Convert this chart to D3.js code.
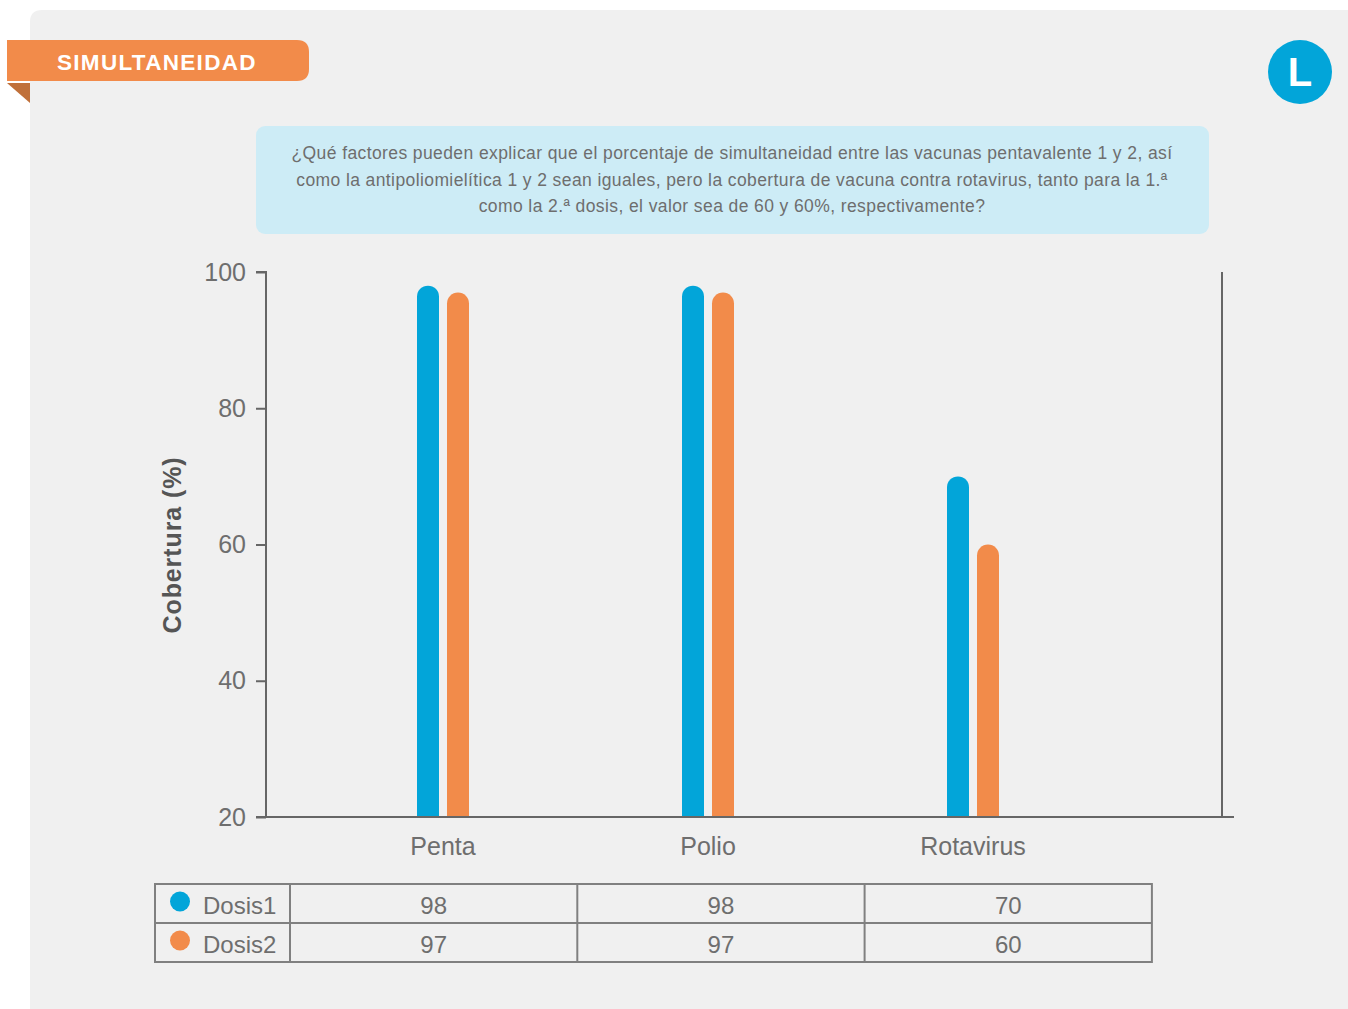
<!DOCTYPE html>
<html>
<head>
<meta charset="utf-8">
<script src="https://cdn.jsdelivr.net/npm/d3@7"></script>
<style>
  html, body { margin: 0; padding: 0; background: #ffffff; }
  svg { display: block; }
  text { font-family: "Liberation Sans", Arial, sans-serif; }
</style>
</head>
<body>
<script>
// Vaccine coverage by dose
const categories = ["Penta", "Polio", "Rotavirus"];
const seriesNames = ["Dosis1", "Dosis2"];
const dosis1 = [98, 98, 70];
const dosis2 = [97, 97, 60];
const yTicks = [20, 40, 60, 80, 100];
const questionLines = [
  "¿Qué factores pueden explicar que el porcentaje de simultaneidad entre las vacunas pentavalente 1 y 2, así",
  "como la antipoliomielítica 1 y 2 sean iguales, pero la cobertura de vacuna contra rotavirus, tanto para la 1.ª",
  "como la 2.ª dosis, el valor sea de 60 y 60%, respectivamente?"
];

const W = 1348, H = 1009;
const BLUE = "#02a5d9", ORANGE = "#f28b4a", GREY = "#6e6e6e", LINE = "#666666";
const colors = [BLUE, ORANGE];
const series = [dosis1, dosis2];

const svg = d3.select("body").append("svg").attr("width", W).attr("height", H);

// card background
svg.append("path")
  .attr("d", "M30,22 Q30,10 42,10 L1348,10 L1348,1009 L30,1009 Z")
  .attr("fill", "#f0f0f0");

// section ribbon
svg.append("path")
  .attr("d", "M7,83 L30,83 L30,103 Z")
  .attr("fill", "#c0703a");
svg.append("path")
  .attr("d", "M7,40 L297,40 Q309,40 309,52 L309,69 Q309,81 297,81 L7,81 Z")
  .attr("fill", ORANGE);
svg.append("text")
  .attr("x", 57).attr("y", 70)
  .attr("fill", "#ffffff")
  .attr("font-size", 22.5).attr("font-weight", "bold")
  .attr("letter-spacing", 1.3)
  .text("SIMULTANEIDAD");

// badge
svg.append("circle").attr("cx", 1300).attr("cy", 72).attr("r", 32).attr("fill", BLUE);
svg.append("text")
  .attr("x", 1300).attr("y", 86)
  .attr("text-anchor", "middle")
  .attr("fill", "#ffffff")
  .attr("font-size", 40).attr("font-weight", "bold")
  .text("L");

// question box
svg.append("rect")
  .attr("x", 256).attr("y", 126).attr("width", 953).attr("height", 108)
  .attr("rx", 9).attr("fill", "#cdecf6");
svg.append("g").selectAll("text").data(questionLines).join("text")
  .attr("x", 732).attr("y", (d, i) => 159 + i * 26.5)
  .attr("text-anchor", "middle")
  .attr("fill", GREY)
  .attr("font-size", 17.5)
  .attr("letter-spacing", 0.4)
  .text(d => d);

// scales
const y = d3.scaleLinear().domain([20, 100]).range([817, 272]);
const x = d3.scalePoint().domain(categories).range([443, 973]);
const barW = 22, gap = 8;

// y axis
const yAxis = svg.append("g")
  .attr("transform", "translate(266,0)")
  .call(d3.axisLeft(y).tickValues(yTicks).tickSize(10).tickPadding(10));
yAxis.select(".domain").attr("stroke", LINE).attr("stroke-width", 2)
  .attr("d", "M-10,272H0V817H-10");
yAxis.selectAll(".tick line").attr("stroke", LINE).attr("stroke-width", 2);
yAxis.selectAll(".tick text")
  .attr("fill", GREY).attr("font-size", 25)
  .attr("font-family", "Liberation Sans, Arial, sans-serif");

// x baseline and right frame
svg.append("line").attr("x1", 266).attr("x2", 1234).attr("y1", 817).attr("y2", 817)
  .attr("stroke", LINE).attr("stroke-width", 2);
svg.append("line").attr("x1", 1222).attr("x2", 1222).attr("y1", 272).attr("y2", 817)
  .attr("stroke", LINE).attr("stroke-width", 2);

// y title
svg.append("text")
  .attr("transform", "translate(181,545) rotate(-90)")
  .attr("text-anchor", "middle")
  .attr("fill", "#555555")
  .attr("font-size", 25).attr("font-weight", "bold")
  .attr("letter-spacing", 0.9)
  .text("Cobertura (%)");

// bars with rounded tops
function roundedBar(x0, yTop, w, yBase) {
  const r = w / 2;
  return `M${x0},${yBase} L${x0},${yTop + r} A${r},${r} 0 0 1 ${x0 + w},${yTop + r} L${x0 + w},${yBase} Z`;
}
const barData = [];
categories.forEach((c, i) => {
  series.forEach((s, j) => {
    barData.push({ c, j, v: s[i] });
  });
});
svg.append("g").selectAll("path").data(barData).join("path")
  .attr("d", d => {
    const x0 = x(d.c) - barW - gap / 2 + d.j * (barW + gap);
    return roundedBar(x0, y(d.v), barW, y(20) - 1);
  })
  .attr("fill", d => colors[d.j]);

// category labels
svg.append("g").selectAll("text").data(categories).join("text")
  .attr("x", d => x(d)).attr("y", 855)
  .attr("text-anchor", "middle")
  .attr("fill", GREY).attr("font-size", 25)
  .text(d => d);

// data table
const tX = 155, tY = 884, rowH = 39, firstW = 135, colW = 287.3;
const table = svg.append("g");
table.append("rect")
  .attr("x", tX).attr("y", tY).attr("width", firstW + colW * 3).attr("height", rowH * 2)
  .attr("fill", "none").attr("stroke", "#808080").attr("stroke-width", 2);
table.append("line")
  .attr("x1", tX).attr("x2", tX + firstW + colW * 3)
  .attr("y1", tY + rowH).attr("y2", tY + rowH)
  .attr("stroke", "#808080").attr("stroke-width", 2);
[0, 1, 2].forEach(k => {
  table.append("line")
    .attr("x1", tX + firstW + colW * k).attr("x2", tX + firstW + colW * k)
    .attr("y1", tY).attr("y2", tY + rowH * 2)
    .attr("stroke", "#808080").attr("stroke-width", 2);
});
seriesNames.forEach((name, j) => {
  const cy = tY + rowH * j + rowH / 2;
  table.append("circle").attr("cx", 180).attr("cy", cy - 2).attr("r", 10).attr("fill", colors[j]);
  table.append("text").attr("x", 203).attr("y", cy + 10)
    .attr("fill", GREY).attr("font-size", 24).text(name);
  series[j].forEach((v, i) => {
    table.append("text")
      .attr("x", tX + firstW + colW * i + colW / 2).attr("y", cy + 10)
      .attr("text-anchor", "middle")
      .attr("fill", GREY).attr("font-size", 24)
      .text(v);
  });
});
</script>
</body>
</html>
